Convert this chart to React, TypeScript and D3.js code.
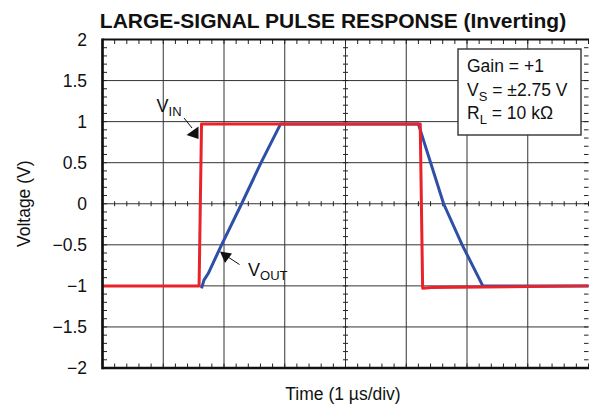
import React from "react";
import * as d3 from "d3";

const W = 589;
const H = 404;

const title = "LARGE-SIGNAL PULSE RESPONSE (Inverting)";
const xLabel = "Time (1 \u00b5s/div)";
const yLabel = "Voltage (V)";

const yTicks = [2, 1.5, 1, 0.5, 0, -0.5, -1, -1.5, -2];
const yTickLabels = ["2", "1.5", "1", "0.5", "0", "\u22120.5", "\u22121", "\u22121.5", "\u22122"];
const xDivs = [0, 1, 2, 3, 4, 5, 6, 7, 8];

// V_IN trace (red)
const vinT = [0, 1.59, 1.63, 5.23, 5.27, 5.42, 8];
const vinV = [-1.0, -1.0, 0.97, 0.97, -1.03, -1.02, -1.0];

// V_OUT trace (blue)
const voutT = [1.63, 1.67, 1.74, 1.96, 2.29, 2.61, 2.93, 5.2, 5.615, 5.92, 6.26, 8];
const voutV = [-1.03, -0.93, -0.85, -0.5, 0, 0.5, 0.97, 0.97, 0, -0.5, -1.0, -1.0];

const legendLines = [
  { main: "Gain = +1", sub: "", rest: "" },
  { main: "V", sub: "S", rest: " = \u00b12.75 V" },
  { main: "R", sub: "L", rest: " = 10 k\u03a9" },
];

const FONT = "'Liberation Sans', Arial, Helvetica, sans-serif";

export default function App() {
  const left = 102.5;
  const right = 588.5;
  const top = 39.5;
  const bottom = 368;

  const x = d3.scaleLinear().domain([0, 8]).range([left, right]);
  const y = d3.scaleLinear().domain([-2, 2]).range([bottom, top]);

  const line = d3
    .line<number>()
    .x((_, i) => 0)
    .y(() => 0);

  const mk = (ts: number[], vs: number[]) =>
    d3
      .line<number>()
      .x((t) => x(t))
      .y((_, i) => y(vs[i]))(ts) as string;

  const xMinor = d3.range(0, 8.0001, 0.2);
  const yMinor = d3.range(-2, 2.0001, 0.1);

  const gridColor = "#333";

  return (
    <svg
      width={W}
      height={H}
      style={{ position: "absolute", left: 0, top: 0, background: "#fff" }}
      fontFamily={FONT}
    >
      <rect x={0} y={0} width={W} height={H} fill="#fff" />
      {/* title */}
      <text x={333} y={28} textAnchor="middle" fontSize={21} fontWeight="bold" fill="#111">
        {title}
      </text>

      {/* grid */}
      {xDivs.slice(1, -1).map((d) => (
        <line key={"gx" + d} x1={x(d)} x2={x(d)} y1={top} y2={bottom} stroke={gridColor} strokeWidth={1} />
      ))}
      {yTicks.slice(1, -1).map((v) => (
        <line key={"gy" + v} x1={left} x2={right} y1={y(v)} y2={y(v)} stroke={gridColor} strokeWidth={1} />
      ))}

      {/* minor ticks on frame and crosshair */}
      {xMinor.map((t, i) => (
        <g key={"xm" + i} stroke="#222" strokeWidth={1}>
          <line x1={x(t)} x2={x(t)} y1={top} y2={top + 4.5} />
          <line x1={x(t)} x2={x(t)} y1={bottom} y2={bottom - 4.5} />
          <line x1={x(t)} x2={x(t)} y1={y(0) - 2.5} y2={y(0) + 2.5} />
        </g>
      ))}
      {yMinor.map((v, i) => (
        <g key={"ym" + i} stroke="#222" strokeWidth={1}>
          <line x1={left} x2={left + 4.5} y1={y(v)} y2={y(v)} />
          <line x1={right} x2={right - 4.5} y1={y(v)} y2={y(v)} />
          <line x1={x(4) - 2.5} x2={x(4) + 2.5} y1={y(v)} y2={y(v)} />
        </g>
      ))}

      {/* traces */}
      <path d={mk(voutT, voutV)} fill="none" stroke="#2d4fa6" strokeWidth={3} strokeLinejoin="round" />
      <path d={mk(vinT, vinV)} fill="none" stroke="#ea2229" strokeWidth={3} strokeLinejoin="round" />

      {/* frame */}
      <line x1={left} x2={left} y1={top - 1} y2={bottom + 1.3} stroke="#111" strokeWidth={2.7} />
      <line x1={left} x2={right + 2} y1={top} y2={top} stroke="#111" strokeWidth={2} />
      <line x1={left} x2={right + 2} y1={bottom} y2={bottom} stroke="#111" strokeWidth={2.7} />

      {/* y tick labels */}
      {yTicks.map((v, i) => (
        <text key={"yl" + v} x={87} y={y(v) + 6.3} textAnchor="end" fontSize={17.5} fill="#111">
          {yTickLabels[i]}
        </text>
      ))}

      {/* axis labels */}
      <text x={343} y={400} textAnchor="middle" fontSize={17.5} fill="#111">
        {xLabel}
      </text>
      <text
        transform={`translate(30,${y(0)}) rotate(-90)`}
        textAnchor="middle"
        fontSize={17.5}
        fill="#111"
      >
        {yLabel}
      </text>

      {/* legend box */}
      <rect x={458} y={49} width={123} height={86} fill="#fff" stroke="#333" strokeWidth={1.4} />
      {legendLines.map((l, i) => (
        <text key={"lg" + i} x={467} y={72 + i * 23.5} fontSize={17.5} fill="#111">
          {l.main}
          {l.sub && (
            <tspan fontSize={13} dy={5}>
              {l.sub}
            </tspan>
          )}
          {l.rest && <tspan dy={l.sub ? -5 : 0}>{l.rest}</tspan>}
        </text>
      ))}

      {/* V_IN annotation */}
      <text x={156.5} y={111.5} fontSize={18} fill="#111">
        V<tspan fontSize={13} dy={4}>IN</tspan>
      </text>
      <line x1={184} x2={192} y1={118} y2={128} stroke="#111" strokeWidth={1} />
      <path d="M186.5,135 L198.5,126.5 L198.5,139 Z" fill="#111" />

      {/* V_OUT annotation */}
      <text x={248} y={275.7} fontSize={18} fill="#111">
        V<tspan fontSize={13} dy={4}>OUT</tspan>
      </text>
      <line x1={239.5} x2={228} y1={264.5} y2={257} stroke="#111" strokeWidth={1} />
      <path d="M220,251.5 L232,253.5 L225,263 Z" fill="#111" />
    </svg>
  );
}
